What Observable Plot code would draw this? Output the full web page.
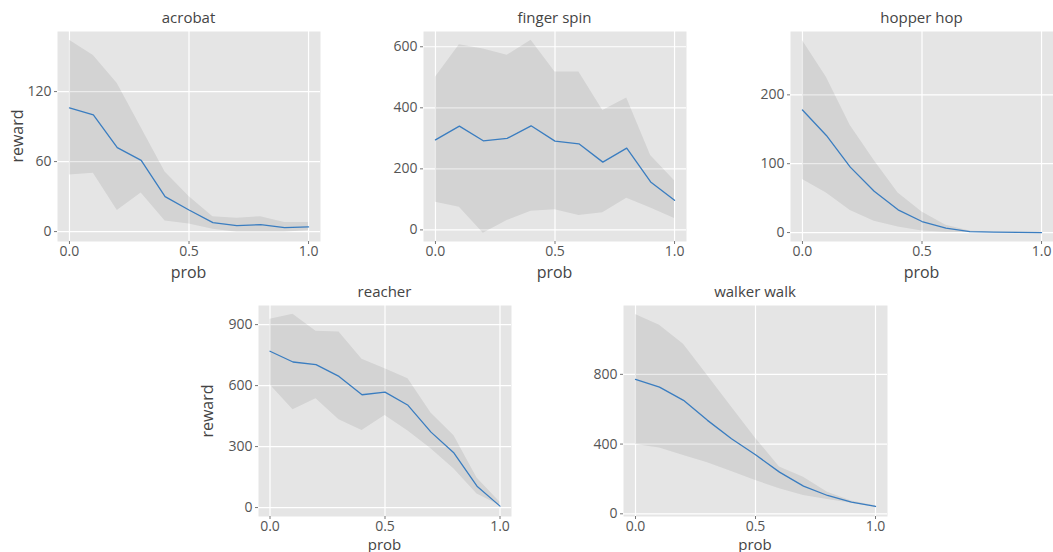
<!DOCTYPE html>
<html>
<head>
<meta charset="utf-8">
<script src="https://cdn.jsdelivr.net/npm/d3@7"></script>
<script src="https://cdn.jsdelivr.net/npm/@observablehq/plot@0.6"></script>
<style>
  html, body { margin: 0; padding: 0; background: #fff; }
  #root { position: relative; width: 1053px; height: 552px; overflow: hidden; font-family: "Open Sans", sans-serif; color: #444; }
  .panel { position: absolute; }
  .lbl { position: absolute; white-space: nowrap; transform: translate(-50%, -50%); color: #444; line-height: 1; }
  .rot { transform: translate(-50%, -50%) rotate(-90deg); }
</style>
</head>
<body>
<div id="root"></div>
<script>
const prob = [0, 0.1, 0.2, 0.3, 0.4, 0.5, 0.6, 0.7, 0.8, 0.9, 1.0];
const envNames = ["acrobat", "finger spin", "hopper hop", "reacher", "walker walk"];

const acrobatMean = [106, 100, 72, 61, 30, 18.5, 7.7, 5.1, 6, 3.4, 4];
const acrobatLow  = [48.5, 50, 18, 33, 9, 6.6, 2, -0.5, -0.5, -0.5, 1];
const acrobatHigh = [164, 151, 127, 89, 51, 30, 12.8, 11.4, 12.8, 7.7, 7.7];

const fingerMean = [295, 340, 292, 300, 341, 291, 282, 222, 268, 157, 97];
const fingerLow  = [91, 74, -11, 31, 61, 66, 47, 56, 104, 72, 37];
const fingerHigh = [500, 607, 593, 572, 621, 517, 517, 391, 432, 244, 161];

const hopperMean = [178, 141, 95, 60, 33, 16, 6.3, 1.4, 0.5, 0.2, 0];
const hopperLow  = [77, 57.5, 32, 16.4, 8.2, 2.4, 0.5, 0, 0, 0, 0];
const hopperHigh = [279, 225.6, 155.6, 104.8, 57.5, 30, 10.6, 2.4, 0.5, 0.3, 0.2];

const reacherMean = [769, 716, 703, 645, 555, 568, 503, 371, 268, 105, 7];
const reacherLow  = [604, 481, 535, 432, 379, 453, 376, 289, 190, 67, 10];
const reacherHigh = [926, 951, 867, 864, 729, 683, 634, 465, 353, 146, 26];

const walkerMean = [771, 727, 651, 536, 431, 339, 239, 159, 105, 67, 42];
const walkerLow  = [398, 377, 335, 293, 243, 191, 144, 105, 82, 61, 38];
const walkerHigh = [1144, 1081, 972, 794, 612, 434, 268, 210, 124, 73, 46];

const xTicks = [0, 0.5, 1.0];
const yTicks = [[0, 60, 120], [0, 200, 400, 600], [0, 100, 200], [0, 300, 600, 900], [0, 400, 800]];
const yDomains = [[-8.5, 171.5], [-38, 650], [-13, 292], [-44, 994], [-15.5, 1195]];

const series = [
  [acrobatMean, acrobatLow, acrobatHigh],
  [fingerMean, fingerLow, fingerHigh],
  [hopperMean, hopperLow, hopperHigh],
  [reacherMean, reacherLow, reacherHigh],
  [walkerMean, walkerLow, walkerHigh]
];

// layout: svg box and margins (frame = panel background)
const layout = [
  {left: 0,   top: 0,   width: 330, height: 280, ml: 57, mr: 10, mt: 31, mb: 39, ylab: true,  pOff: 31, pSize: 16},
  {left: 370, top: 0,   width: 330, height: 280, ml: 53, mr: 14, mt: 31, mb: 39, ylab: false, pOff: 31, pSize: 16},
  {left: 730, top: 0,   width: 323, height: 280, ml: 60, mr: 0,  mt: 31, mb: 39, ylab: false, pOff: 31, pSize: 16},
  {left: 190, top: 280, width: 340, height: 272, ml: 68, mr: 19, mt: 25, mb: 36, ylab: true,  pOff: 28, pSize: 15},
  {left: 560, top: 280, width: 340, height: 272, ml: 63, mr: 13, mt: 25, mb: 36, ylab: false, pOff: 28, pSize: 15}
];

const root = document.getElementById("root");

function addLabel(text, x, y, size, rot) {
  const d = document.createElement("div");
  d.className = "lbl" + (rot ? " rot" : "");
  d.textContent = text;
  d.style.left = x + "px";
  d.style.top = y + "px";
  d.style.fontSize = size + "px";
  root.appendChild(d);
}

envNames.forEach((name, i) => {
  const L = layout[i];
  const [m, lo, hi] = series[i];
  const data = prob.map((p, j) => ({prob: p, mean: m[j], lo: lo[j], hi: hi[j]}));
  const chart = Plot.plot({
    width: L.width,
    height: L.height,
    marginLeft: L.ml, marginRight: L.mr, marginTop: L.mt, marginBottom: L.mb,
    style: {background: "transparent", fontFamily: "Open Sans, sans-serif", fontSize: "14px", color: "#555", overflow: "visible"},
    x: {domain: [-0.05, 1.05]},
    y: {domain: yDomains[i]},
    marks: [
      Plot.frame({fill: "#e5e5e5", stroke: null}),
      Plot.gridX(xTicks, {stroke: "white", strokeOpacity: 1, strokeWidth: 1.2}),
      Plot.gridY(yTicks[i], {stroke: "white", strokeOpacity: 1, strokeWidth: 1.2}),
      Plot.areaY(data, {x: "prob", y1: "lo", y2: "hi", fill: "black", fillOpacity: 0.08}),
      Plot.lineY(data, {x: "prob", y: "mean", stroke: "#3a7dc0", strokeWidth: 1.3}),
      Plot.axisX(xTicks, {tickFormat: d3.format(".1f"), tickSize: 3, tickPadding: 2, label: null, stroke: "#777", fill: "#555"}),
      Plot.axisY(yTicks[i], {tickSize: 3, tickPadding: 3, label: null, stroke: "#777", fill: "#555"})
    ]
  });
  const wrap = document.createElement("div");
  wrap.className = "panel";
  wrap.style.left = L.left + "px";
  wrap.style.top = L.top + "px";
  wrap.appendChild(chart);
  root.appendChild(wrap);

  const fx0 = L.left + L.ml, fx1 = L.left + L.width - L.mr;
  const fy0 = L.top + L.mt, fy1 = L.top + L.height - L.mb;
  const cx = (fx0 + fx1) / 2;
  addLabel(name, cx, fy0 - 14, 15, false);
  addLabel("prob", cx, fy1 + L.pOff, L.pSize, false);
  if (L.ylab) addLabel("reward", L.left + 17, (fy0 + fy1) / 2, 16, true);
});
</script>
</body>
</html>
